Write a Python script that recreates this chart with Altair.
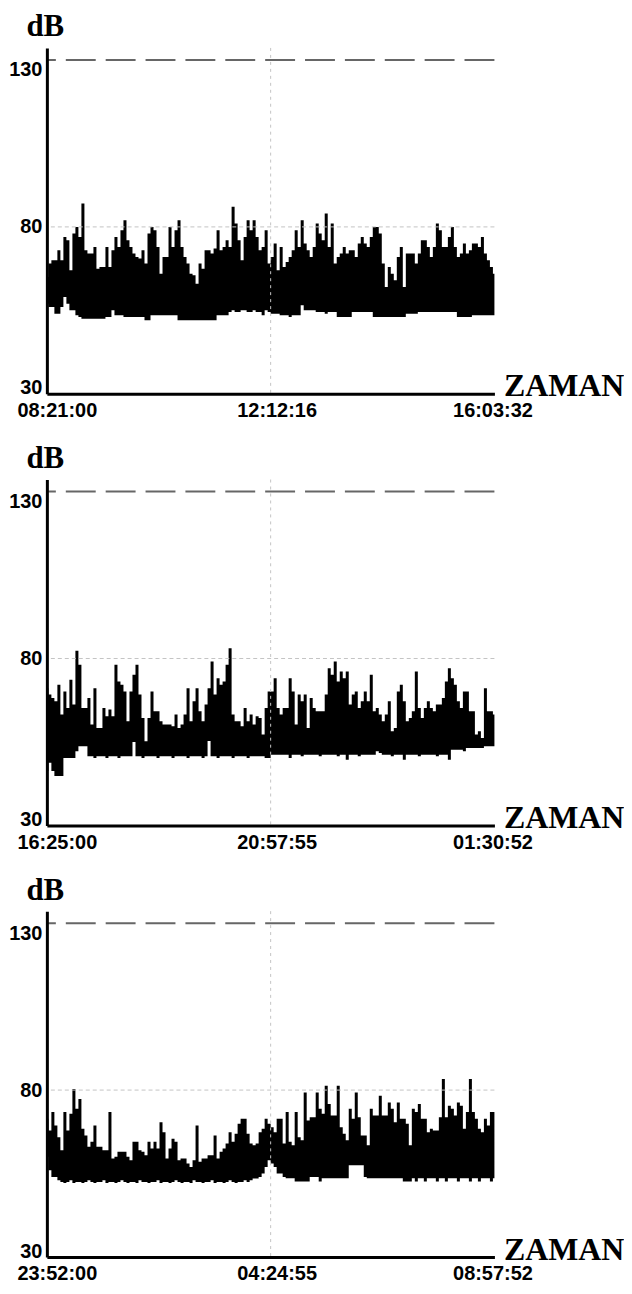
import altair as alt
import pandas as pd

# ---------------- data ----------------
Y_TICKS = [30, 80, 130]
GRID_LEVEL = 80
LIMIT_LEVEL = 130

P1_LABELS = ["08:21:00", "12:12:16", "16:03:32"]
P2_LABELS = ["16:25:00", "20:57:55", "01:30:52"]
P3_LABELS = ["23:52:00", "04:24:55", "08:57:52"]

# panel 1 (upper envelope / lower envelope, dB)
P1_HI = [65, 69, 70, 70, 73, 70, 77, 76, 67, 78, 80, 77, 87, 73, 72, 72, 74, 67.5, 68, 68,
         74, 68, 73, 77, 74, 79, 82, 76, 74, 72, 71, 70.5, 73, 69, 78, 80, 79, 74, 66, 71,
         71, 80, 74, 79, 82, 74, 71, 69, 66, 65.5, 63, 69, 67.5, 73, 73, 72, 73.5, 79, 73, 74,
         76, 74, 86, 81, 76, 70, 77, 82, 79, 82, 77, 73, 74, 79, 69,
         71, 75, 67, 74, 68, 69.5, 71, 73, 79, 74, 82, 75, 73, 71, 74, 81, 78, 76, 84, 74,
         81, 69, 71, 72, 74, 72, 73, 73, 71, 75, 77, 75, 74, 77, 80, 80, 78, 69, 62, 68,
         66, 64, 71, 74, 62, 72, 72, 72, 69, 72, 76, 76, 74, 71, 74, 81, 79, 74, 74, 77,
         80, 74, 71, 72, 75, 72, 73, 75, 75, 74, 77, 72, 70, 68, 66]
P1_LO = [57, 56, 56, 54, 54, 56, 59, 57, 55, 55, 53.5, 53, 52.5, 52.5, 52.5, 52.5, 52.5, 52.5, 52.5, 52.5,
         53, 53, 55, 53.5, 53.5, 53.5, 53, 53, 53, 53, 53, 53, 53, 52, 52, 53.5, 53.5, 53.5, 53.5, 53.5,
         53.5, 53.5, 53.5, 53.5, 52, 52, 52, 52, 52, 52, 52, 52, 52, 52, 52, 52, 52, 53.5, 53.5, 53.5,
         53.5, 54.5, 55, 54.5, 54.5, 55, 55, 54.5, 54.5, 55, 54.5, 54.5, 53.5, 55, 54.5,
         54, 54, 54, 53.5, 53.5, 53.5, 53, 53.5, 53.5, 53.5, 56.5, 55, 55, 55, 55,
         54.5, 54.5, 54.5, 54, 54.5, 54.5, 54.5, 53, 53, 53, 53, 53, 54.5, 54.5, 54.5,
         54.5, 54.5, 54.5, 54.5, 53, 53, 53, 53, 53, 53, 53, 53, 53, 53, 53, 54, 54, 54, 54,
         54.5, 54.5, 54.5, 54.5, 54.5, 54.5, 54.5, 54.5, 54.5, 54.5, 54.5, 54.5, 54.5,
         53, 53, 53, 53, 53, 53.5, 53.5, 53.5, 53.5, 53.5, 53.5, 53.5, 53.5]

# panel 2
P2_HI = [71.1, 69.2, 68.2, 67.2, 72.1, 63.2, 70.1, 65.2, 73.6, 66.2,
         82.3, 78.1, 65.2, 65.2, 68.2, 60.2, 71.1, 59.2, 59.2, 65.2,
         62.7, 64.7, 62.7, 78.1, 73.1, 72.1, 70.1, 61.2, 70.1, 75.1,
         78.1, 69.2, 62.2, 55.2, 62.2, 70.1, 64.2, 64.2, 61.2, 60.2,
         60.2, 60.2, 59.7, 63.2, 59.2, 60.2, 63.2, 71.1, 61.2, 67.2,
         71.1, 64.2, 61.2, 66.2, 71.1, 79.1, 69.2, 74.1, 72.1, 73.1,
         78.1, 83.1, 63.2, 61.2, 61.2, 59.7, 65.2, 61.2, 63.2, 60.2,
         62.7, 62.2, 57.2, 65.2, 70.1,
         70.1, 74.1, 65.2, 63.2, 65.2, 65.2, 74.1, 70.1, 60.2, 69.2,
         67.2, 69.2, 59.2, 68.2, 65.2, 64.2, 64.2, 64.2, 69.2, 77.1,
         75.1, 79.1, 73.1, 76.1, 74.1, 76.1, 66.2, 69.2, 70.1, 65.2,
         67.2, 70.1, 67.2, 75.1, 64.2, 65.2, 63.2, 61.2, 63.2, 67.2,
         58.2, 59.2, 70.1, 72.1, 67.2, 61.2, 62.2, 64.2, 76.1, 65.2,
         62.2, 65.2, 67.2, 65.2, 64.2, 66.2, 66.2, 68.2, 73.1, 77.1,
         74.1, 72.1, 67.2, 65.2, 70.1, 70.1, 64.2, 64.2, 57.2, 58.2,
         56.2, 71.1, 64.2, 64.2, 63.2]
P2_LO = [46.3, 48.8, 46.3, 44.8, 44.8, 44.8, 50.2, 50.2, 50.2, 50.2, 52.2, 53.7, 53.7, 53.7,
         50.7, 50.7, 50.2, 50.7, 50.7, 50.7, 50.2, 50.7, 50.7, 50.7, 50.2, 50.7, 50.7, 50.7, 50.7,
         55,
         50.7, 50.7, 50.2, 50.7, 50.7, 50.7, 50.7, 50.2, 50.7, 50.7, 50.7, 50.7,
         50.2, 50.7, 50.7, 50.7, 50.7, 50.2, 50.7, 50.7, 50.7, 50.7, 50.2, 50.7,
         55.3,
         50.7, 50.7, 50.2, 50.7, 50.7, 50.7, 50.7, 50.2, 50.7, 50.7, 50.7, 50.7, 50.2, 50.7,
         50.7, 50.7, 50.7, 50.7, 50.2, 50.2,
         51.2, 51.2, 51.2, 51.2, 51.2, 51.2, 50.2, 51.2,
         51.2, 51.2, 50.7, 51.2, 51.2, 51.2, 51.2, 51.2, 50.7, 51.2, 51.2, 51.2, 51.2, 51.2, 50.7, 51.2, 51.2,
         49.7,
         51.2, 51.2, 51.2, 50.7, 51.2, 51.2, 51.2, 51.2, 51.2,
         52.2, 51.7,
         51.2, 51.2, 51.2, 50.7, 51.2, 51.2, 51.2,
         49.7,
         51.2, 51.2, 51.2, 51.2, 50.7, 51.2, 51.2, 51.2, 51.2, 51.2, 50.7, 51.2, 51.2,
         51.2, 49.7,
         52.7, 52.7, 52.7, 52.7, 52.2, 53.2, 53.2, 53.2, 53.2, 53.2, 53.2, 53.7, 53.7, 53.7, 53.7]

# panel 3
P3_HI = [71.4, 67.9, 73.4, 69.4, 65.9, 62, 73.4, 67.9, 72.9, 80.3,
         74.4, 77.3, 68.4, 66.4, 63, 64.5, 69.4, 63, 63, 62,
         62, 73.4, 59.5, 60, 61.5, 61.5, 61.5, 60, 59, 64.5,
         64.5, 62, 61.5, 60.5, 64.5, 62.5, 64.5, 62.5, 70.4, 67.4,
         59.5, 62.5, 65.4, 64.5, 59, 59.5, 59.5, 58, 57, 59,
         69.4, 58.5, 59.5, 59.5, 60.5, 60.5, 66.4, 59.5, 61.5, 62.5,
         64, 67.4, 64.5, 66.9, 69.9, 71.4, 71.4, 66.9, 64, 63.5,
         64, 67.4, 68.4, 71.4, 69.9,
         68.9, 67.4, 71.4, 71.4, 64, 73.4, 64.5, 63.5, 73.4, 65.9,
         65, 79.3, 70.9, 71.9, 71.9, 79.3, 74.4, 72.9, 81.3, 75.8,
         72.4, 72.4, 81.3, 68.9, 66.9, 65, 74.4, 71.4, 79.3, 71.9,
         66.4, 66.4, 63.5, 74.4, 72.4, 72.4, 78.3, 72.4, 72.4, 76.3,
         74.4, 70.4, 76.3, 71.4, 71.4, 69.9, 63.5, 74.4, 73.4, 75.8,
         71.4, 71.4, 67.4, 68.4, 67.9, 67.9, 71.9, 83.3, 71.9, 75.3,
         74.4, 72.4, 76.3, 75.3, 68.4, 73.4, 83.3, 73.4, 71.4, 68.4,
         67.4, 71.4, 69.4, 73.4, 73.4]
P3_LO = [60, 56, 54, 54,
         53, 52.5, 52.2, 52.5, 53, 52.2, 52.5, 52.5, 52.2, 52.5,
         53, 52.5, 52.2, 52.5, 52.5, 53, 52.2, 52.5, 52.5, 52.2,
         52.5, 53, 52.5, 52.2, 52.5, 52.5, 52.2, 53, 52.5, 52.5,
         52.2, 52.5, 52.5, 53, 52.2, 52.5, 52.5, 52.2, 52.5, 53,
         52.5, 52.2, 52.5, 52.5, 52.2, 53, 52.5, 52.5, 52.2, 52.5,
         52.5, 53, 52.2, 52.5, 52.5, 52.2, 52.5, 53, 52.5, 52.2,
         52.5, 52.5, 53, 52.5, 53, 53.5, 53.5,
         54, 55, 57, 59,
         58, 57, 55, 55, 54, 53.6, 53.6, 53.6, 52.6, 52.6, 52.6, 52.6, 52.6,
         54, 54, 54, 52.6, 53.6, 53.6, 53.6, 53.6, 53.6, 53.6, 53.6, 53.6, 53.6,
         57.5, 57.5, 57.5, 57.5, 57.5, 54,
         53.6, 53.6, 53.6, 53.6, 53.6, 53.6, 53.6, 53.6, 53.6, 53.6, 53.6, 53.6,
         52.6, 52.6, 52.6,
         53.6, 52.6, 53.6, 53.6, 52.6, 53.6, 53.6, 53.6, 52.6, 53.6, 53.6, 52.6, 53.6, 53.6,
         53.6, 52.6, 53.6, 53.6, 53.6, 52.6, 53.6, 53.6, 52.6, 53.6, 53.6, 53.6, 52.6, 53.6]

for a, b in [(P1_HI, P1_LO), (P2_HI, P2_LO), (P3_HI, P3_LO)]:
    assert len(a) == len(b) == 150, (len(a), len(b))

# ---------------- chart ----------------
W, H = 449, 347
Y_DOMAIN = [30, 133.6]
SANS = "Liberation Sans"
SERIF = "Liberation Serif"


def panel(hi, lo, labels):
    n = len(hi)
    last = n - 1
    mid = last / 2
    df = pd.DataFrame({"i": list(range(n)), "hi": hi, "lo": lo})

    xscale = alt.Scale(domain=[0, last], nice=False, zero=False)
    yscale = alt.Scale(domain=Y_DOMAIN, nice=False, zero=False)

    label_expr = (f"datum.value == 0 ? '{labels[0]}' : "
                  f"(datum.value < {last} ? '{labels[1]}' : '{labels[2]}')")
    xaxis = alt.Axis(
        values=[0, mid, last], labelExpr=label_expr, ticks=False, grid=False,
        domainColor="black", domainWidth=3, labelFlush=False,
        labelFont=SANS, labelFontSize=20, labelFontWeight="bold", labelColor="black",
        labelPadding=7,
        labelOffset={"condition": [{"test": "datum.value == 0", "value": 10},
                                   {"test": f"datum.value >= {last}", "value": -2}],
                     "value": 6},
        title="ZAMAN", titleFont=SERIF, titleFontSize=32, titleFontWeight="bold",
        titleColor="black", titleX=W + 9, titleY=2, titleAlign="left",
        titleBaseline="alphabetic", zindex=1,
    )
    yaxis = alt.Axis(
        values=Y_TICKS, ticks=False, grid=False, domainColor="black", domainWidth=3,
        labelFont=SANS, labelFontSize=20, labelFontWeight="bold", labelColor="black",
        labelPadding=5, labelFlush=False,
        labelBaseline={"condition": [{"test": f"datum.value >= {LIMIT_LEVEL}", "value": "top"},
                                     {"test": f"datum.value <= {Y_TICKS[0]}", "value": "alphabetic"}],
                       "value": "middle"},
        title="dB", titleFont=SERIF, titleFontSize=31, titleFontWeight="bold",
        titleColor="black", titleAngle=0, titleX=-21, titleY=-12, titleAlign="left",
        titleBaseline="alphabetic", zindex=1,
    )

    area = alt.Chart(df).mark_area(color="black", interpolate="step").encode(
        x=alt.X("i:Q", scale=xscale, axis=xaxis),
        y=alt.Y("hi:Q", scale=yscale, axis=yaxis),
        y2="lo:Q",
    )
    grid80 = alt.Chart(pd.DataFrame({"v": [GRID_LEVEL]})).mark_rule(
        color="#c4c4c4", strokeDash=[4, 3], strokeWidth=1
    ).encode(y=alt.Y("v:Q", scale=yscale, axis=yaxis))
    vmid = alt.Chart(pd.DataFrame({"m": [mid]})).mark_rule(
        color="#c4c4c4", strokeDash=[3, 4], strokeWidth=1
    ).encode(x=alt.X("m:Q", scale=xscale, axis=xaxis))
    limit = alt.Chart(pd.DataFrame({"v": [LIMIT_LEVEL]})).mark_rule(
        color="#666666", strokeDash=[30, 10], strokeWidth=2
    ).encode(y=alt.Y("v:Q", scale=yscale, axis=yaxis))

    return alt.layer(area, grid80, vmid, limit).properties(width=W, height=H)


chart = alt.vconcat(
    panel(P1_HI, P1_LO, P1_LABELS),
    panel(P2_HI, P2_LO, P2_LABELS),
    panel(P3_HI, P3_LO, P3_LABELS),
    spacing=22,
).properties(
    padding={"left": 0, "top": 1, "right": 0, "bottom": 0},
    background="white",
).configure_view(stroke=None)

chart.save("out.html", embed_options={"renderer": "svg", "actions": False})
